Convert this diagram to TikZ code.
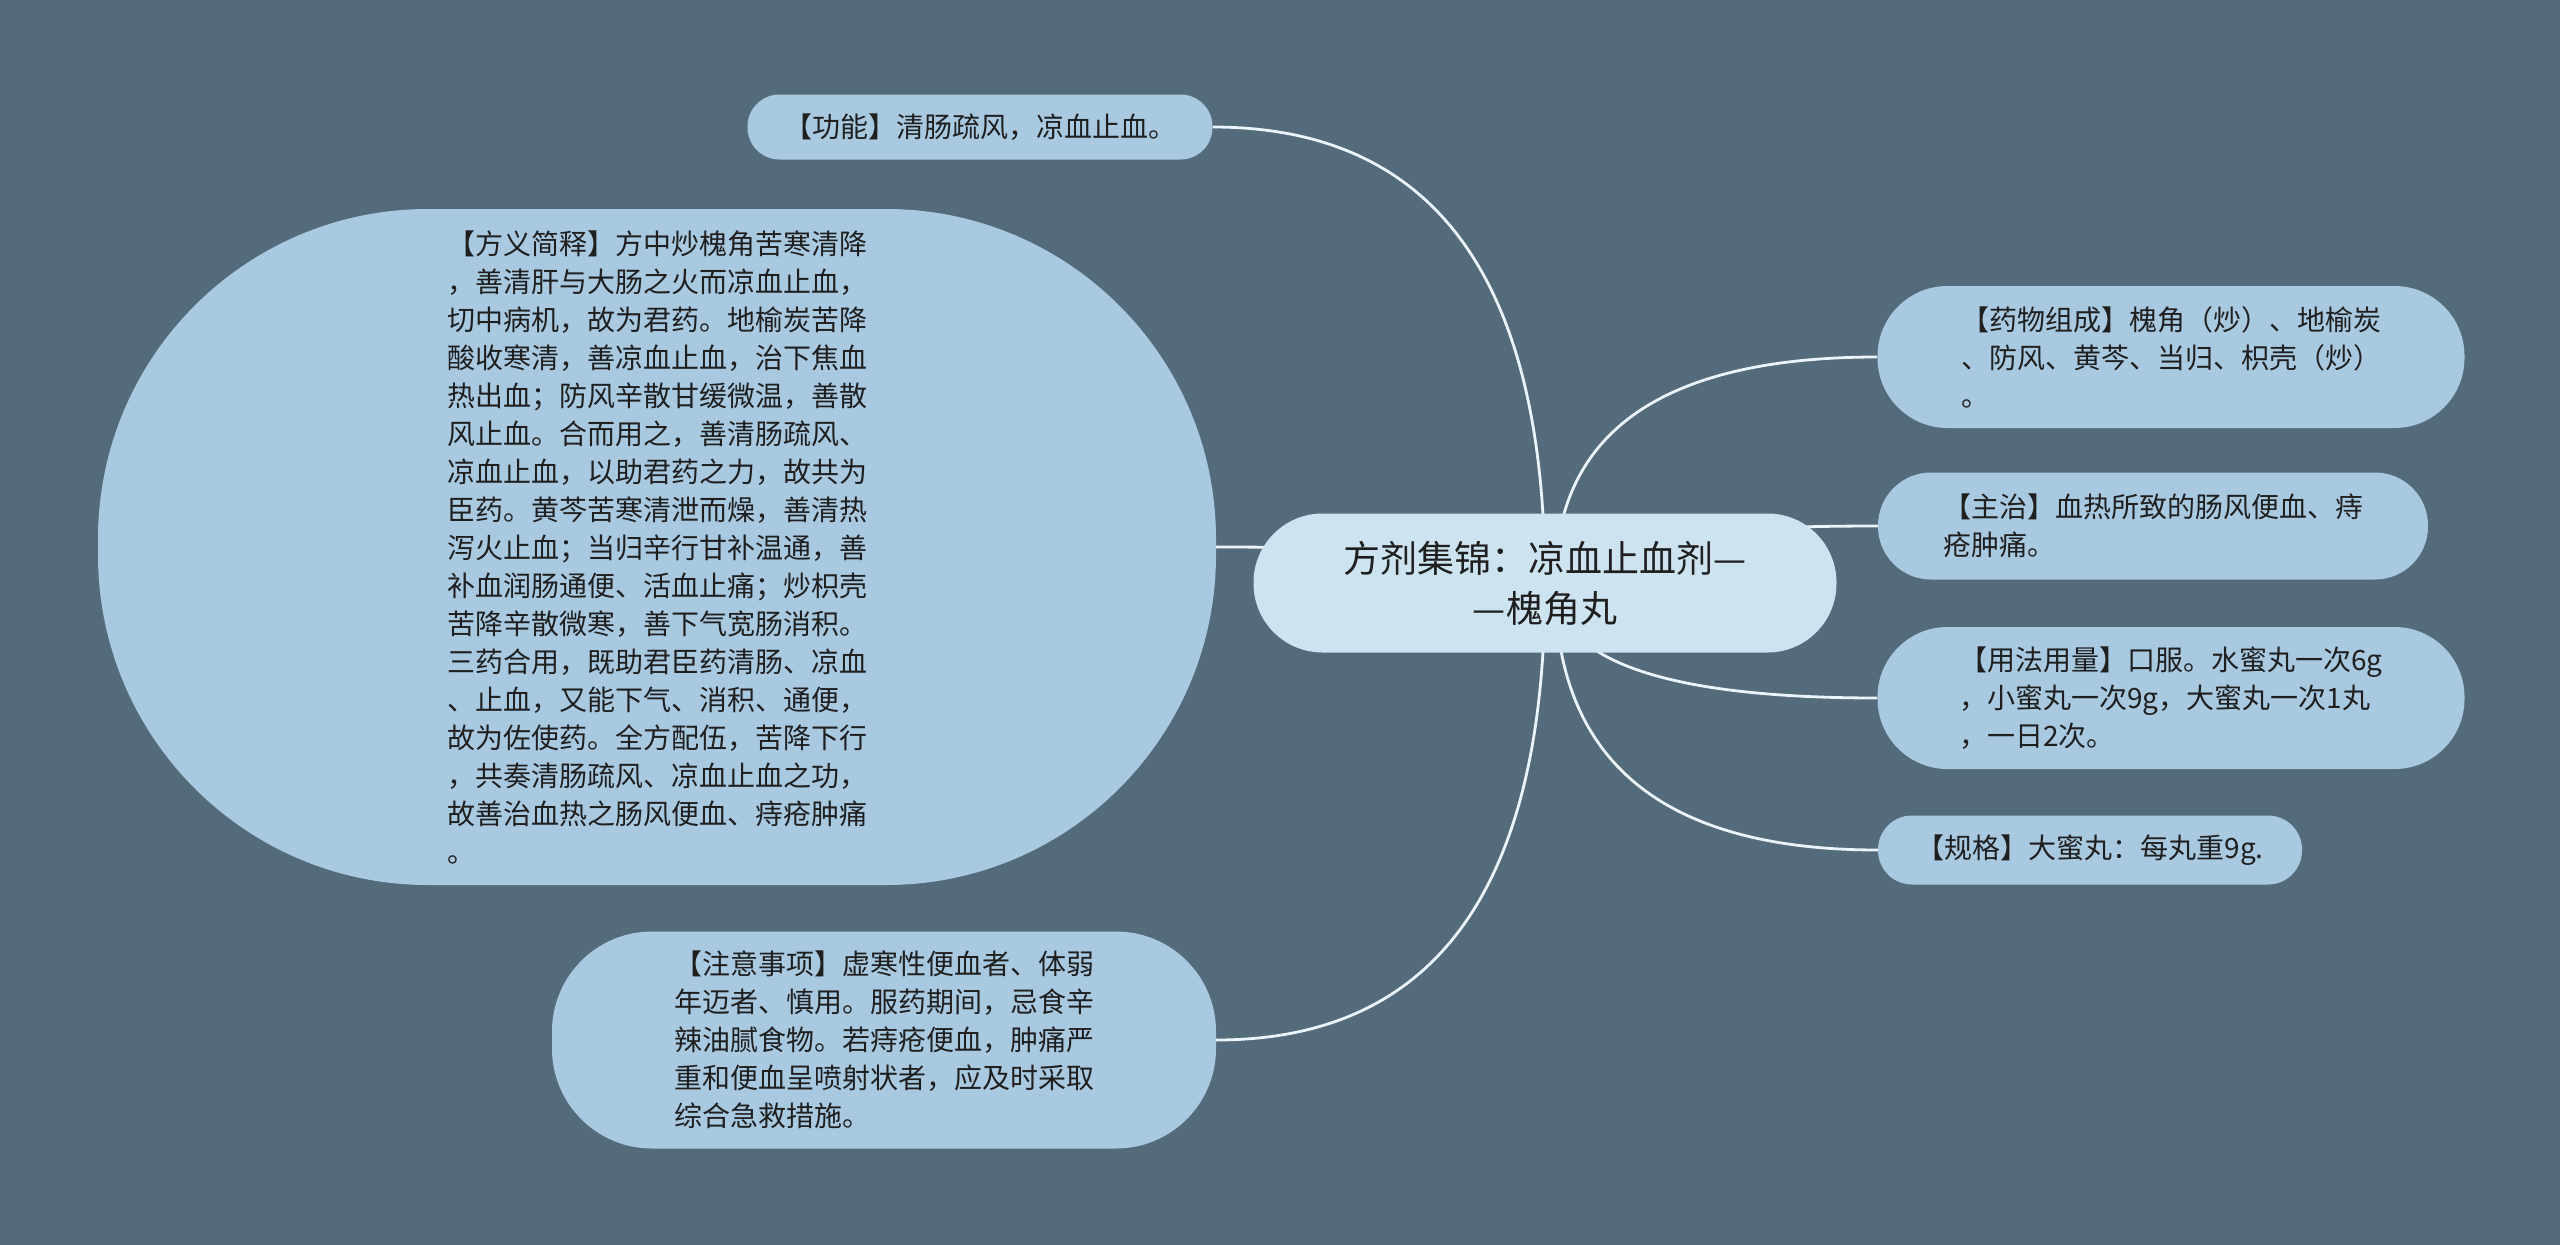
\documentclass[tikz,border=0pt]{standalone}
\usepackage{fontspec}
\setmainfont{Noto Sans CJK SC}
\usetikzlibrary{backgrounds,calc}

\definecolor{bgslate}{HTML}{546B7B}
\definecolor{leafblue}{HTML}{A9C9E1}
\definecolor{rootblue}{HTML}{CDE4F0}
\definecolor{linkwhite}{HTML}{EAF4FA}
\definecolor{inkdark}{HTML}{1F1F1F}

\begin{document}
\begin{tikzpicture}[x=1pt, y=-1pt,
    leaf/.style={fill=leafblue, text=inkdark, align=left, inner sep=0pt,
      font=\fontsize{28}{38}\selectfont},
    rootnode/.style={fill=rootblue, text=inkdark, align=center, inner sep=0pt,
      font=\fontsize{37}{50}\selectfont},
    link/.style={draw=linkwhite, line width=2.8pt}]

    \begin{scope}[on background layer]
        \fill[bgslate] (0,0) rectangle (2560,1245);
    \end{scope}
    \useasboundingbox (0,0) rectangle (2560,1245);

    \node (root) [rootnode, minimum width=583pt, minimum height=139pt, rounded corners=69pt] at (1545,583)
        {方剂集锦：凉血止血剂—\\—槐角丸};

    \node (gongneng) [leaf, minimum width=465pt, minimum height=65pt, rounded corners=32pt] at (980,127)
        {【功能】清肠疏风，凉血止血。};
    \node (fangyi) [leaf, minimum width=1118pt, minimum height=676pt, rounded corners=330pt] at (657,547)
        {【方义简释】方中炒槐角苦寒清降\\，善清肝与大肠之火而凉血止血，\\切中病机，故为君药。地榆炭苦降\\酸收寒清，善凉血止血，治下焦血\\热出血；防风辛散甘缓微温，善散\\风止血。合而用之，善清肠疏风、\\凉血止血，以助君药之力，故共为\\臣药。黄芩苦寒清泄而燥，善清热\\泻火止血；当归辛行甘补温通，善\\补血润肠通便、活血止痛；炒枳壳\\苦降辛散微寒，善下气宽肠消积。\\三药合用，既助君臣药清肠、凉血\\、止血，又能下气、消积、通便，\\故为佐使药。全方配伍，苦降下行\\，共奏清肠疏风、凉血止血之功，\\故善治血热之肠风便血、痔疮肿痛\\。};
    \node (zhuyi) [leaf, minimum width=664pt, minimum height=217pt, rounded corners=100pt] at (884,1040)
        {【注意事项】虚寒性便血者、体弱\\年迈者、慎用。服药期间，忌食辛\\辣油腻食物。若痔疮便血，肿痛严\\重和便血呈喷射状者，应及时采取\\综合急救措施。};

    \node (zucheng) [leaf, minimum width=587pt, minimum height=142pt, rounded corners=70pt] at (2171,357)
        {【药物组成】槐角（炒）、地榆炭\\、防风、黄芩、当归、枳壳（炒）\\。};
    \node (zhuzhi) [leaf, minimum width=550pt, minimum height=107pt, rounded corners=53pt] at (2153,526)
        {【主治】血热所致的肠风便血、痔\\疮肿痛。};
    \node (yongfa) [leaf, minimum width=587pt, minimum height=142pt, rounded corners=70pt] at (2171,698)
        {【用法用量】口服。水蜜丸一次6g\\，小蜜丸一次9g，大蜜丸一次1丸\\，一日2次。};
    \node (guige) [leaf, minimum width=424pt, minimum height=69pt, rounded corners=34pt] at (2090,850)
        {【规格】大蜜丸：每丸重9g.};

    % hubs inside the root where the links start
    \coordinate (hubL) at (root.center);
    \coordinate (hubR) at ([xshift=10pt]root.center);

    % links behind the nodes
    \begin{scope}[on background layer]
        \draw[link] (hubL) .. controls ($(hubL)!0.667!(hubL |- gongneng.east)$) and ($(gongneng.east)!0.667!(hubL |- gongneng.east)$) .. (gongneng.east);
        \draw[link] (hubL) .. controls ($(hubL)!0.667!(hubL |- fangyi.east)$) and ($(fangyi.east)!0.667!(hubL |- fangyi.east)$) .. (fangyi.east);
        \draw[link] (hubL) .. controls ($(hubL)!0.667!(hubL |- zhuyi.east)$) and ($(zhuyi.east)!0.667!(hubL |- zhuyi.east)$) .. (zhuyi.east);
        \draw[link] (hubR) .. controls ($(hubR)!0.667!(hubR |- zucheng.west)$) and ($(zucheng.west)!0.667!(hubR |- zucheng.west)$) .. (zucheng.west);
        \draw[link] (hubR) .. controls ($(hubR)!0.667!(hubR |- zhuzhi.west)$) and ($(zhuzhi.west)!0.667!(hubR |- zhuzhi.west)$) .. (zhuzhi.west);
        \draw[link] (hubR) .. controls ($(hubR)!0.667!(hubR |- yongfa.west)$) and ($(yongfa.west)!0.667!(hubR |- yongfa.west)$) .. (yongfa.west);
        \draw[link] (hubR) .. controls ($(hubR)!0.667!(hubR |- guige.west)$) and ($(guige.west)!0.667!(hubR |- guige.west)$) .. (guige.west);
    \end{scope}
\end{tikzpicture}
\end{document}
